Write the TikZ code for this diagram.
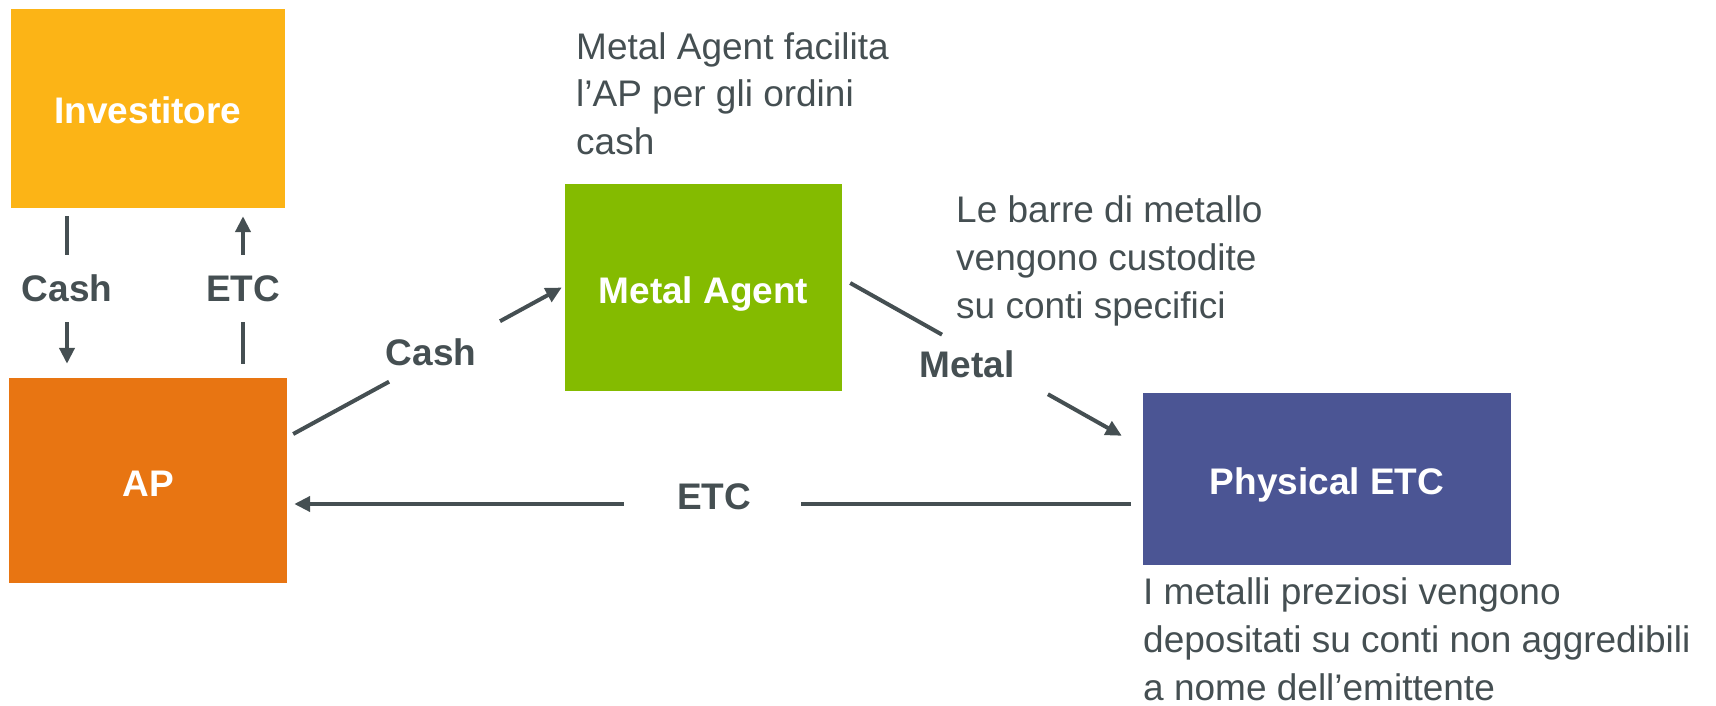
\documentclass[tikz,border=0pt]{standalone}
\usepackage{fontspec}
\setmainfont{Liberation Sans}
\usetikzlibrary{arrows.meta,calc}

\definecolor{invcol}{RGB}{252,180,22}
\definecolor{apcol}{RGB}{232,117,18}
\definecolor{macol}{RGB}{132,187,0}
\definecolor{pecol}{RGB}{75,85,148}
\definecolor{ink}{RGB}{69,79,82}

\tikzset{
  actor/.style={draw=none, fill=#1, inner sep=0pt, text=white,
    font=\fontsize{37}{48}\selectfont\bfseries, text depth=0pt, text height=31pt},
  conn/.style={draw=ink, line width=4pt},
  tip/.style={-{Triangle[length=16pt,width=15pt]}},
  flowlabel/.style={inner sep=0pt, text=ink,
    font=\fontsize{37}{48}\selectfont\bfseries},
  gaplabel/.style={flowlabel, minimum height=67pt, text depth=0pt},
  % base of a multi-line note is the baseline of its last line
  note/.style={inner sep=0pt, text=ink, align=left,
    font=\fontsize{37}{48}\selectfont, anchor=base west}
}

\begin{document}
\begin{tikzpicture}[x=1pt,y=-1pt]
\useasboundingbox (0,0) rectangle (1716,706);

% participants
\node[actor=invcol, minimum width=274pt, minimum height=199pt] (inv) at (148,108.5) {Investitore};
\node[actor=apcol,  minimum width=278pt, minimum height=205pt] (ap)  at (148,480.5) {AP};
\node[actor=macol,  minimum width=277pt, minimum height=207pt] (ma)  at (703.5,287.5) {Metal Agent};
\node[actor=pecol,  minimum width=368pt, minimum height=172pt] (pe)  at (1327,479) {Physical ETC};

% investor <-> AP
\node[gaplabel] (lcash) at (67,288.5) {Cash};
\node[gaplabel] (letc)  at (243,288.5) {ETC};
\draw[conn] ([yshift=-8pt]inv.south -| lcash.center) -- (lcash.north);
\draw[conn,tip] (lcash.south) -- ([yshift=14pt]ap.north -| lcash.center);
\draw[conn,tip] (letc.north) -- ([yshift=-8pt]inv.south -| letc.center);
\draw[conn] ([yshift=14pt]ap.north -| letc.center) -- (letc.south);

% AP -> Metal Agent
\coordinate (c1s) at ([xshift=6pt,yshift=46.5pt]ap.east);
\coordinate (c1e) at ([xshift=-3pt]ma.west);
\draw[conn] (c1s) -- ($(c1s)!0.357!(c1e)$);
\draw[conn,tip] ($(c1s)!0.77!(c1e)$) -- (c1e);
\node[flowlabel, anchor=base] (lcash2) at (431,365) {Cash};

% Metal Agent -> Physical ETC
\coordinate (c2s) at ([xshift=8pt,yshift=4.5pt]ma.east);
\coordinate (c2e) at ([xshift=-21pt,yshift=-43pt]pe.north west);
\draw[conn] (c2s) -- ($(c2s)!0.338!(c2e)$);
\draw[conn,tip] ($(c2s)!0.728!(c2e)$) -- (c2e);
\node[flowlabel, anchor=base] (lmetal) at (967,377) {Metal};

% Physical ETC -> AP
\coordinate (c3s) at ([xshift=-12pt,yshift=-25pt]pe.west);
\coordinate (c3e) at ([xshift=7pt,yshift=-23.5pt]ap.east);
\draw[conn] (c3s) -- ($(c3s)!0.394!(c3e)$);
\draw[conn,tip] ($(c3s)!0.606!(c3e)$) -- (c3e);
\node[flowlabel, anchor=base] (letc2) at (714,509) {ETC};

% notes
\node[note] (n1) at (576,155) {Metal Agent facilita\\l’AP per gli ordini\\cash};
\node[note] (n2) at (956,318) {Le barre di metallo\\vengono custodite\\su conti specifici};
\node[note] (n3) at (1143,700) {I metalli preziosi vengono\\depositati su conti non aggredibili\\a nome dell’emittente};
\end{tikzpicture}
\end{document}
